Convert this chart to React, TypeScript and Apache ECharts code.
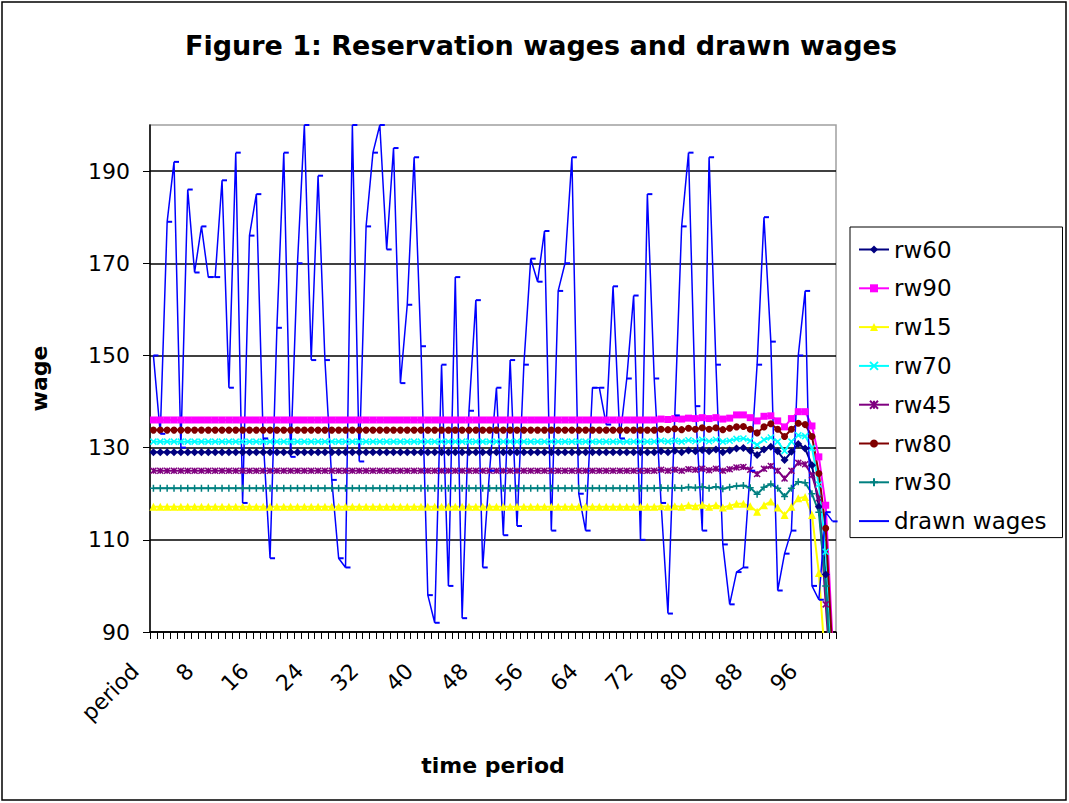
import React, { useEffect, useRef } from "react";
import * as echarts from "echarts";

const categories: string[] = ["period", ...Array.from({ length: 99 }, (_, i) => String(i + 1))];

const seriesNames = ["rw60", "rw90", "rw15", "rw70", "rw45", "rw80", "rw30", "drawn wages"];

const rw60 = [
  129,129,129,129,129,129,129,129,129,129,129,129,129,129,129,129,129,129,129,129,
  129,129,129,129,129,129,129,129,129,129,129,129,129,129,129,129,129,129,129,129,
  129,129,129,129,129,129,129,129,129,129,129,129,129,129,129,129,129,129,129,129,
  129,129,129,129,129,129,129,129,129,129,129,129,129,129,
  129.2,129.0,129.3,129.0,129.4,129.2,129.5,129.2,129.6,129.0,129.4,129.8,129.9,129.3,128.4,129.6,130.2,129.2,127.3,129.1,130.8,129.8,126.2,117.2,102.5,85,
];
const rw90 = [
  136,136,136,136,136,136,136,136,136,136,136,136,136,136,136,136,136,136,136,136,
  136,136,136,136,136,136,136,136,136,136,136,136,136,136,136,136,136,136,136,136,
  136,136,136,136,136,136,136,136,136,136,136,136,136,136,136,136,136,136,136,136,
  136,136,136,136,136,136,136,136,136,136,136,136,136,136,
  136.2,136.1,136.3,136.2,136.4,136.3,136.5,136.3,136.5,136.2,136.4,137.1,137.1,136.5,135.8,136.8,136.9,135.8,134.5,136.3,137.8,137.8,134.7,128,117.5,88,
];
const rw15 = [
  117.2,117.2,117.2,117.2,117.2,117.2,117.2,117.2,117.2,117.2,117.2,117.2,117.2,117.2,117.2,117.2,117.2,117.2,117.2,117.2,
  117.2,117.2,117.2,117.2,117.2,117.2,117.2,117.2,117.2,117.2,117.2,117.2,117.2,117.2,117.2,117.2,117.2,117.2,117.2,117.2,
  117.2,117.2,117.2,117.2,117.2,117.2,117.2,117.2,117.2,117.2,117.2,117.2,117.2,117.2,117.2,117.2,117.2,117.2,117.2,117.2,
  117.2,117.2,117.2,117.2,117.2,117.2,117.2,117.2,117.2,117.2,117.2,117.2,117.2,117.2,
  117.3,117.2,117.3,117.2,117.5,117.3,117.6,117.2,117.5,117.0,117.4,117.8,117.8,117.3,116.1,117.5,118.3,117.0,115.4,117.2,119.0,119.3,115.4,102.8,82,70,
];
const rw70 = [
  131.3,131.3,131.3,131.3,131.3,131.3,131.3,131.3,131.3,131.3,131.3,131.3,131.3,131.3,131.3,131.3,131.3,131.3,131.3,131.3,
  131.3,131.3,131.3,131.3,131.3,131.3,131.3,131.3,131.3,131.3,131.3,131.3,131.3,131.3,131.3,131.3,131.3,131.3,131.3,131.3,
  131.3,131.3,131.3,131.3,131.3,131.3,131.3,131.3,131.3,131.3,131.3,131.3,131.3,131.3,131.3,131.3,131.3,131.3,131.3,131.3,
  131.3,131.3,131.3,131.3,131.3,131.3,131.3,131.3,131.3,131.3,131.3,131.3,131.3,131.3,
  131.5,131.3,131.5,131.3,131.6,131.4,131.7,131.4,131.7,131.3,131.5,131.9,132.0,131.5,130.6,131.7,132.2,131.3,129.3,131.3,132.7,132.5,129.9,122,107.4,82,
];
const rw45 = [
  125,125,125,125,125,125,125,125,125,125,125,125,125,125,125,125,125,125,125,125,
  125,125,125,125,125,125,125,125,125,125,125,125,125,125,125,125,125,125,125,125,
  125,125,125,125,125,125,125,125,125,125,125,125,125,125,125,125,125,125,125,125,
  125,125,125,125,125,125,125,125,125,125,125,125,125,125,
  125.2,125.0,125.2,125.0,125.3,125.2,125.4,125.1,125.4,125.0,125.3,125.7,125.8,125.2,124.3,125.4,126.0,125.0,123.3,125.0,126.7,126.4,124.0,119,96,75,
];
const rw80 = [
  133.8,133.8,133.8,133.8,133.8,133.8,133.8,133.8,133.8,133.8,133.8,133.8,133.8,133.8,133.8,133.8,133.8,133.8,133.8,133.8,
  133.8,133.8,133.8,133.8,133.8,133.8,133.8,133.8,133.8,133.8,133.8,133.8,133.8,133.8,133.8,133.8,133.8,133.8,133.8,133.8,
  133.8,133.8,133.8,133.8,133.8,133.8,133.8,133.8,133.8,133.8,133.8,133.8,133.8,133.8,133.8,133.8,133.8,133.8,133.8,133.8,
  133.8,133.8,133.8,133.8,133.8,133.8,133.8,133.8,133.8,133.8,133.8,133.8,133.8,133.8,
  134.0,133.9,134.1,133.9,134.2,134.0,134.3,134.0,134.3,133.9,134.2,134.5,134.6,134.0,133.2,134.5,135.2,134.0,132.4,134.0,135.3,135.0,132.4,124.4,112.5,85,
];
const rw30 = [
  121.2,121.2,121.2,121.2,121.2,121.2,121.2,121.2,121.2,121.2,121.2,121.2,121.2,121.2,121.2,121.2,121.2,121.2,121.2,121.2,
  121.2,121.2,121.2,121.2,121.2,121.2,121.2,121.2,121.2,121.2,121.2,121.2,121.2,121.2,121.2,121.2,121.2,121.2,121.2,121.2,
  121.2,121.2,121.2,121.2,121.2,121.2,121.2,121.2,121.2,121.2,121.2,121.2,121.2,121.2,121.2,121.2,121.2,121.2,121.2,121.2,
  121.2,121.2,121.2,121.2,121.2,121.2,121.2,121.2,121.2,121.2,121.2,121.2,121.2,121.2,
  121.3,121.2,121.3,121.2,121.4,121.3,121.5,121.2,121.5,121.1,121.4,121.7,121.8,121.3,119.9,121.4,122.1,121.2,119.4,121.2,122.6,122.4,120.0,116,100,75,
];
const drawnWages = [
  150,133,179,192,130,186,168,178,167,167,188,143,194,118,176,185,132,106,156,194,
  128,170,200,149,189,149,123,106,104,200,127,178,194,200,173,195,144,161,193,152,
  98,92,148,100,167,93,138,162,104,125,143,111,149,113,148,171,166,177,112,164,
  170,193,120,112,143,143,135,165,132,145,163,110,185,145,118,94,137,178,194,139,
  112,193,148,109,96,103,104,125,148,180,153,99,107,112,150,164,100,97,116,114,
];

const yTicks = [90, 110, 130, 150, 170, 190];

const FONT = "DejaVu Sans";

const SYM_X = "path://M0 0L10 10M10 0L0 10";
const SYM_STAR = "path://M0 0L10 10M10 0L0 10M5 0L5 10";
const SYM_PLUS = "path://M5 0L5 10M0 5L10 5";

export default function App() {
  const ref = useRef<HTMLDivElement>(null);
  useEffect(() => {
    if (!ref.current) return;
    const chart = echarts.init(ref.current, undefined, { renderer: "svg" });
    const mk = (name: string, data: number[], color: string, symbol: string, size: number, stroke: boolean) => ({
      name,
      type: "line",
      data,
      symbol,
      symbolSize: size,
      showSymbol: true,
      showAllSymbol: true,
      clip: true,
      lineStyle: { color, width: 2 },
      itemStyle: stroke ? { color, borderColor: color, borderWidth: 1.5 } : { color, borderWidth: 0 },
      emphasis: { disabled: true },
    });
    const series: any[] = [
      mk(seriesNames[0], rw60, "#000080", "diamond", 8, false),
      mk(seriesNames[1], rw90, "#FF00FF", "rect", 7, false),
      mk(seriesNames[2], rw15, "#FFFF00", "triangle", 8, false),
      mk(seriesNames[3], rw70, "#00FFFF", SYM_X, 6, true),
      mk(seriesNames[4], rw45, "#800080", SYM_STAR, 6, true),
      mk(seriesNames[5], rw80, "#800000", "circle", 7, false),
      mk(seriesNames[6], rw30, "#008080", SYM_PLUS, 7, true),
      {
        name: seriesNames[7],
        type: "line",
        data: drawnWages,
        symbol: "rect",
        symbolSize: [5, 2],
        symbolOffset: [2.5, 0],
        showSymbol: true,
        showAllSymbol: true,
        clip: true,
        lineStyle: { color: "#0000FF", width: 1.5 },
        itemStyle: { color: "#0000FF" },
        emphasis: { disabled: true },
      },
    ];
    chart.setOption({
      animation: false,
      backgroundColor: "#FFFFFF",
      title: {
        text: "Figure 1: Reservation wages and drawn wages",
        left: 536,
        textAlign: "center",
        top: 27,
        textStyle: { fontFamily: FONT, fontSize: 27, fontWeight: "bold", color: "#000" },
      },
      graphic: [
        {
          type: "rect",
          shape: { x: 2, y: 2, width: 1064, height: 798 },
          style: { fill: "none", stroke: "#000", lineWidth: 1.5 },
          silent: true,
        },
      ],
      legend: {
        orient: "vertical",
        left: 850,
        top: 227,
        itemWidth: 30,
        itemHeight: 10,
        itemGap: 15.8,
        padding: [11, 16, 5, 8],
        backgroundColor: "#FFFFFF",
        borderColor: "#000",
        borderWidth: 1,
        data: [
          ...seriesNames.slice(0, 7),
          { name: seriesNames[7], itemStyle: { opacity: 0 } },
        ],
        textStyle: { fontFamily: FONT, fontSize: 23, color: "#000" },
      },
      grid: {
        left: 150,
        top: 125,
        width: 686,
        height: 507,
        show: true,
        borderColor: "#A0A0A0",
        borderWidth: 1.5,
        backgroundColor: "#FFFFFF",
      },
      xAxis: {
        type: "category",
        data: categories,
        boundaryGap: true,
        name: "time period",
        nameLocation: "middle",
        nameGap: 122,
        nameTextStyle: { fontFamily: FONT, fontSize: 22, fontWeight: "bold", color: "#000" },
        axisLine: { show: true, lineStyle: { color: "#000", width: 1.5 } },
        axisTick: { show: true, interval: 0, length: 7, lineStyle: { color: "#000", width: 1 } },
        axisLabel: {
          interval: 7,
          rotate: 45,
          margin: 17,
          padding: [0, 26, 0, 0],
          fontFamily: FONT,
          fontSize: 22,
          color: "#000",
        },
        splitLine: { show: false },
      },
      yAxis: {
        type: "value",
        min: 90,
        max: 200,
        interval: 20,
        name: "wage",
        nameLocation: "middle",
        nameRotate: 90,
        nameGap: 100,
        nameTextStyle: { fontFamily: FONT, fontSize: 22, fontWeight: "bold", color: "#000" },
        axisLine: { show: true, lineStyle: { color: "#000", width: 1.5 } },
        axisTick: { show: true, length: 7, customValues: yTicks, lineStyle: { color: "#000", width: 1 } },
        axisLabel: {
          margin: 20,
          fontFamily: FONT,
          fontSize: 22,
          color: "#000",
          formatter: (v: number) => (yTicks.includes(v) ? String(v) : ""),
        },
        splitLine: {
          show: true,
          lineStyle: { color: ["#000", "#000", "#000", "#000", "#000", "#000", "#A0A0A0"], width: 1.5 },
        },
      },
      series,
    });
    return () => chart.dispose();
  }, []);
  return (
    <div
      ref={ref}
      style={{ position: "absolute", left: 0, top: 0, width: 1069, height: 803, background: "#fff" }}
    />
  );
}
